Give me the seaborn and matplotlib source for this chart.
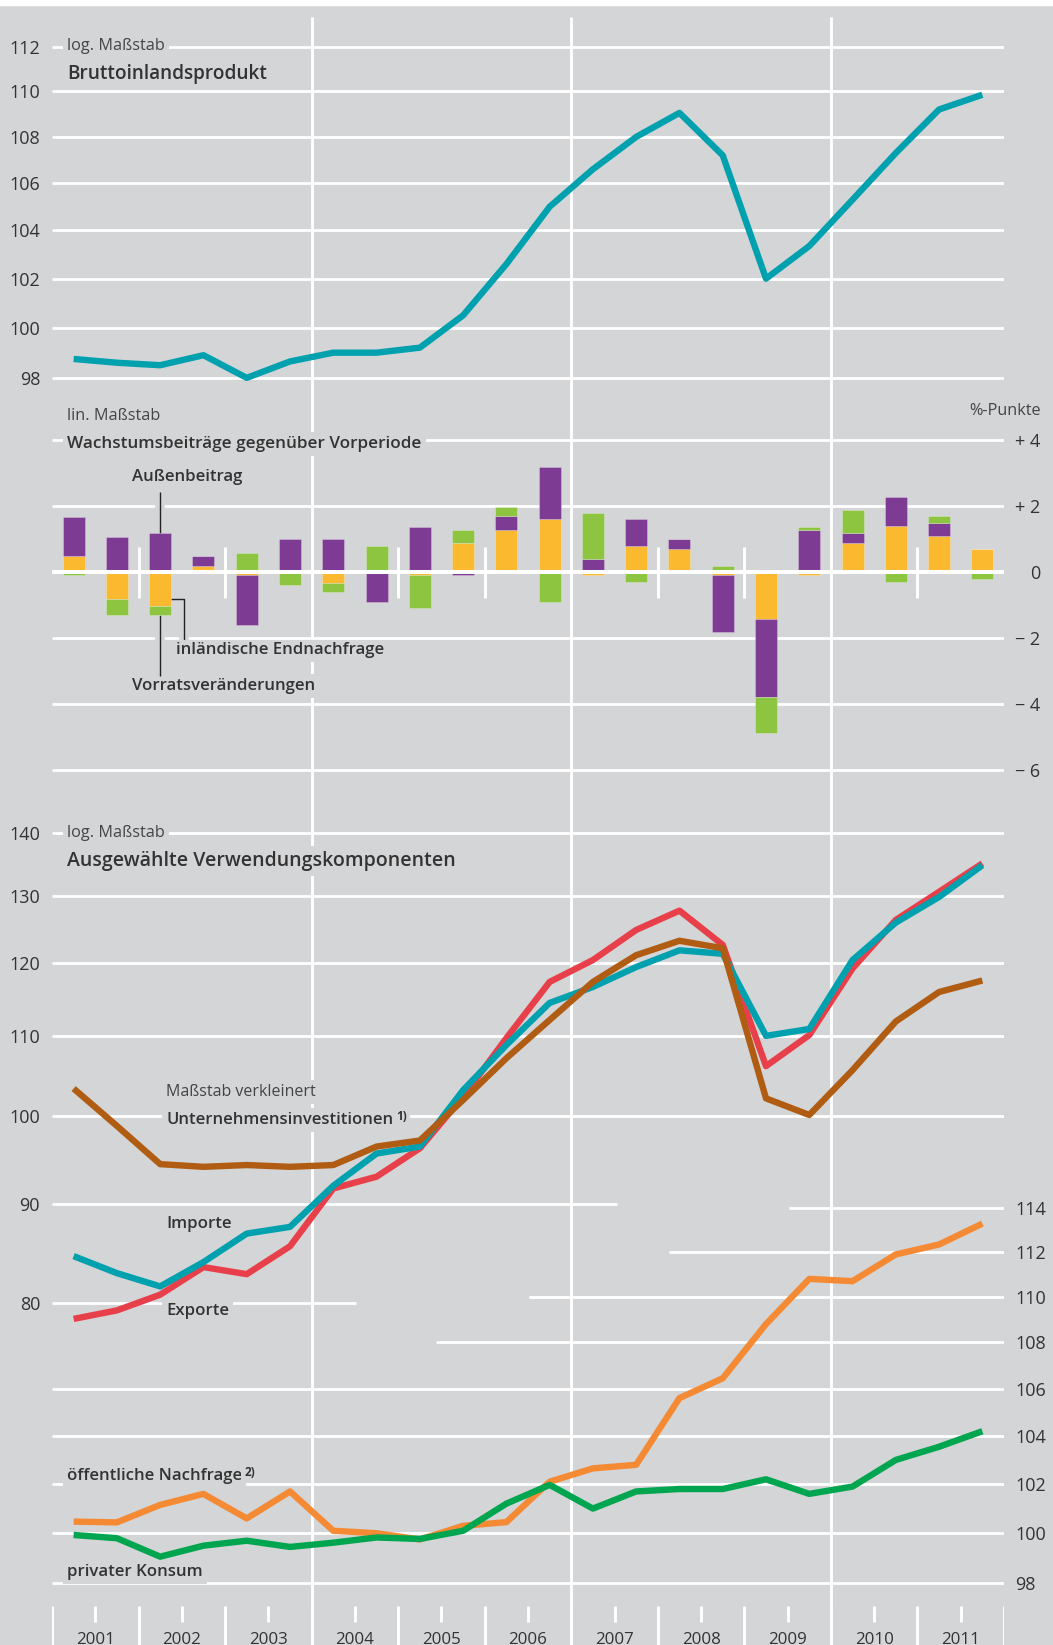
import numpy as np
import pandas as pd
import matplotlib
matplotlib.use("Agg")
import matplotlib.pyplot as plt
import matplotlib.ticker as mticker
import matplotlib.patheffects as pe
from matplotlib.patches import Rectangle
from matplotlib.text import Annotation
import seaborn as sns

# ------------------------------------------------------------------ data
years = list(range(2001, 2012))
half_offsets = [0.25, 0.75]          # Halbjahre innerhalb eines Jahres

gdp = [98.75, 98.6, 98.5, 98.9, 98.0, 98.65, 99.0, 99.0, 99.2, 100.5, 102.6,
       105.0, 106.6, 108.0, 109.05, 107.2, 102.0, 103.35, 105.3, 107.3, 109.2, 109.85]

# Wachstumsbeiträge (%-Punkte)
domestic = [0.48, -0.82, -1.02, 0.19, -0.1, 0.0, -0.32, 0.0, -0.1, 0.89, 1.29,
            1.6, -0.1, 0.79, 0.69, -0.1, -1.42, -0.1, 0.89, 1.39, 1.09, 0.69]
external = [1.2, 1.07, 1.17, 0.3, -1.5, 0.99, 0.99, -0.9, 1.38, -0.08, 0.4,
            1.58, 0.38, 0.81, 0.3, -1.71, -2.39, 1.28, 0.3, 0.89, 0.39, 0.0]
stocks = [-0.1, -0.48, -0.28, 0.0, 0.58, -0.39, -0.3, 0.79, -1.0, 0.4, 0.29,
          -0.9, 1.41, -0.3, 0.0, 0.18, -1.08, 0.1, 0.7, -0.3, 0.21, -0.21]

# Ausgewählte Verwendungskomponenten
investment = [103.3, 98.8, 94.4, 94.1, 94.3, 94.1, 94.3, 96.4, 97.1, 101.9, 107.1,
              112.1, 117.3, 121.1, 123.2, 122.1, 102.1, 100.1, 105.6, 111.9, 115.9, 117.5]
imports = [84.6, 82.9, 81.6, 84.0, 86.9, 87.6, 92.0, 95.6, 96.4, 103.1, 108.8,
           114.4, 116.6, 119.4, 121.8, 121.3, 110.0, 110.9, 120.4, 125.9, 129.8, 134.8]
exports = [78.5, 79.3, 80.8, 83.5, 82.8, 85.6, 91.7, 93.0, 96.2, 102.3, 109.7,
           117.3, 120.4, 124.8, 127.7, 122.6, 106.1, 110.1, 119.2, 126.3, 130.6, 135.1]
public = [100.47, 100.44, 101.15, 101.6, 100.6, 101.7, 100.1, 100.0, 99.75, 100.3, 100.45,
          102.1, 102.65, 102.8, 105.6, 106.45, 108.8, 110.8, 110.7, 111.9, 112.35, 113.3]
private = [99.93, 99.8, 99.06, 99.5, 99.7, 99.45, 99.62, 99.83, 99.77, 100.1, 101.2,
           101.97, 101.0, 101.7, 101.8, 101.8, 102.2, 101.6, 101.9, 103.0, 103.55, 104.2]

gdp_ticks = [98, 100, 102, 104, 106, 108, 110, 112]
bar_ticks = [4, 2, 0, -2, -4, -6]
bar_tick_labels = ["+ 4", "+ 2", "0", "\u2212 2", "\u2212 4", "\u2212 6"]
left_ticks = [80, 90, 100, 110, 120, 130, 140]
right_ticks = [98, 100, 102, 104, 106, 108, 110, 112, 114]

# ------------------------------------------------------------------ style
bg = "#d4d5d7"
txt = "#333333"
txt_light = "#444444"
teal = "#00a1af"
red = "#e8404a"
brown = "#b05c12"
orange_l = "#f58a35"
green_l = "#00a64f"
purple = "#7d3b93"
bar_orange = "#fbb92f"
bar_green = "#8dc540"
white = "white"

sns.set_theme(style="white")
plt.rcParams["font.family"] = ["Open Sans", "DejaVu Sans"]
plt.rcParams["axes.unicode_minus"] = False

W, H = 1053, 1645
fig = plt.figure(figsize=(W / 100, H / 100), dpi=100, facecolor=bg)


def rect(x0, y0, x1, y1):
    return [x0 / W, 1 - y1 / H, (x1 - x0) / W, (y1 - y0) / H]


X0, X1 = 2001, 2012                     # x axis spans pixels 52 .. 1004
PXL, PXR = 52, 1004
PX_PER_YEAR = (PXR - PXL) / (X1 - X0)
xpos = np.array([y + h for y in years for h in half_offsets])
GRID_LW = 2.0


def clean(ax):
    ax.set_facecolor("none")
    for s in ax.spines.values():
        s.set_visible(False)
    ax.set_xlim(X0, X1)
    ax.set_xticks([])
    ax.grid(False)


# background axis: long vertical lines + bottom year ticks
ax_v = fig.add_axes(rect(PXL, 0, PXR, H))
clean(ax_v)
ax_v.set_ylim(H, 0)
ax_v.set_yticks([])
ax_v.vlines([2004, 2007, 2010], 17, H, color=white, lw=2.1, zorder=1)
ax_v.vlines([y for y in years] + [2012], 1606, H, color=white, lw=2.1)
ax_v.vlines([y + 0.5 for y in years], 1606, 1622, color=white, lw=2.1)
for y in years:
    ax_v.text(y + 0.5, 1640, str(y), ha="center", va="center", fontsize=12.2,
              color=txt, clip_on=False)

# white strip at the very top
fig.add_artist(Rectangle((0, 1 - 5 / H), 1, 5 / H, transform=fig.transFigure,
                         color="white", zorder=10))

# ------------------------------------------------------------------ panel 1: GDP
def gdp_val(py):
    return 112 * np.exp(-(py - 46.7) / 2480)


ax_t = fig.add_axes(rect(PXL, 17, PXR, 390))
clean(ax_t)
ax_t.set_yscale("log")
ax_t.set_ylim(gdp_val(390), gdp_val(17))
ax_t.hlines(gdp_ticks, X0, X1, color=white, lw=GRID_LW, zorder=1)
sns.lineplot(x=xpos, y=gdp, ax=ax_t, color=teal, linewidth=4.6, zorder=3,
             solid_capstyle="butt")
ax_t.yaxis.set_major_locator(mticker.FixedLocator(gdp_ticks))
ax_t.yaxis.set_minor_locator(mticker.NullLocator())
ax_t.set_yticklabels([str(t) for t in gdp_ticks])
ax_t.tick_params(axis="y", length=0, pad=8.6, labelsize=13, labelcolor=txt)
ax_t.set_ylabel("")

# ------------------------------------------------------------------ panel 2: bars
def bar_val(py):
    return (572 - py) / 32.93


def bar_x(px):
    return X0 + (px - PXL) / PX_PER_YEAR


ax_m = fig.add_axes(rect(PXL, 420, PXR, 790))
clean(ax_m)
ax_m.set_ylim(bar_val(790), bar_val(420))
ax_m.hlines([t for t in bar_ticks if t != 0], X0, X1, color=white, lw=GRID_LW, zorder=1)
ax_m.hlines([0], X0, X1, color=white, lw=2.9, zorder=4)
ax_m.vlines([2002, 2003, 2005, 2006, 2008, 2009, 2011], -0.8, 0.77, color=white,
            lw=2.1, zorder=1)

pos_base = np.zeros(len(xpos))
neg_base = np.zeros(len(xpos))
for vals, col in [(domestic, bar_orange), (external, purple), (stocks, bar_green)]:
    v = np.array(vals)
    base = np.where(v >= 0, pos_base, neg_base)
    ax_m.bar(xpos, v, bottom=base, width=0.254, color=col, zorder=3,
             edgecolor=(1, 1, 1, 0.25), linewidth=0.7)
    pos_base = pos_base + np.clip(v, 0, None)
    neg_base = neg_base + np.clip(v, None, 0)

ax_m.yaxis.tick_right()
ax_m.set_yticks(bar_ticks)
ax_m.set_yticklabels(bar_tick_labels)
for lab in ax_m.get_yticklabels():
    lab.set_horizontalalignment("right")
ax_m.tick_params(axis="y", length=0, pad=26, labelsize=13, labelcolor=txt)

# leader lines for the bar labels (bar 3 = 2002 H1)
halo = [pe.Stroke(linewidth=7, foreground=bg), pe.Normal()]
xb = xpos[2]
ax_m.plot([xb, xb], [bar_val(491.5), pos_base[2]], color="#222222", lw=1.0,
          zorder=2, path_effects=halo, solid_capstyle="butt")
ax_m.plot([xb + 0.03, bar_x(184), bar_x(184)], [-0.82, -0.82, bar_val(639)],
          color="#222222", lw=1.0, zorder=2, path_effects=halo)
ax_m.plot([xb, xb], [neg_base[2], bar_val(676)], color="#222222", lw=1.0,
          zorder=2, path_effects=halo, solid_capstyle="butt")

# labels below the gridlines (they only cut the vertical year line)
for px, py, s in [(176, 650, "inländische Endnachfrage"),
                  (132, 686, "Vorratsveränderungen")]:
    ax_m.text(bar_x(px), bar_val(py), s, ha="left", va="center", fontsize=12.1,
              fontweight="semibold", color=txt, zorder=0.5,
              bbox=dict(boxstyle="square,pad=0.25", fc=bg, ec="none"))

# ------------------------------------------------------------------ panel 3: components
def left_val(py):
    return 140 * np.exp(-(py - 833.5) / 839)


def right_val(py):
    return 114 * np.exp(-(py - 1208.3) / 2480)


ax_b = fig.add_axes(rect(PXL, 790, PXR, 1600))
clean(ax_b)
ax_b.set_yscale("log")
ax_b.set_ylim(left_val(1600), left_val(790))

# left-scale gridlines (partly shortened)
ax_b.hlines([100, 110, 120, 130, 140], X0, X1, color=white, lw=GRID_LW, zorder=1)
ax_b.hlines([90], X0, bar_x(617), color=white, lw=GRID_LW, zorder=1)
ax_b.hlines([80], X0, bar_x(356), color=white, lw=GRID_LW, zorder=1)

left_df = pd.DataFrame({
    "x": np.tile(xpos, 3),
    "value": exports + imports + investment,
    "series": ["Exporte"] * 22 + ["Importe"] * 22 + ["Unternehmensinvestitionen"] * 22,
})
sns.lineplot(data=left_df, x="x", y="value", hue="series",
             hue_order=["Exporte", "Importe", "Unternehmensinvestitionen"],
             palette=[red, teal, brown], linewidth=4.6, legend=False, ax=ax_b,
             zorder=3, solid_capstyle="butt")
ax_b.yaxis.set_major_locator(mticker.FixedLocator(left_ticks))
ax_b.yaxis.set_minor_locator(mticker.NullLocator())
ax_b.set_yticklabels([str(t) for t in left_ticks])
ax_b.tick_params(axis="y", length=0, pad=8.6, labelsize=13, labelcolor=txt)
ax_b.set_ylabel("")
ax_b.set_xlabel("")

ax_r = ax_b.twinx()
clean(ax_r)
ax_r.set_yscale("log")
ax_r.set_ylim(right_val(1600), right_val(790))
ax_r.hlines([98, 100, 102, 104, 106], X0, X1, color=white, lw=GRID_LW, zorder=1)
for val, start in [(108, 436), (110, 529), (112, 669), (114, 789)]:
    ax_r.hlines([val], bar_x(start), X1, color=white, lw=GRID_LW, zorder=1)

right_df = pd.DataFrame({
    "x": np.tile(xpos, 2),
    "value": public + private,
    "series": ["öffentliche Nachfrage"] * 22 + ["privater Konsum"] * 22,
})
sns.lineplot(data=right_df, x="x", y="value", hue="series",
             hue_order=["öffentliche Nachfrage", "privater Konsum"],
             palette=[orange_l, green_l], linewidth=4.6, legend=False, ax=ax_r,
             zorder=3, solid_capstyle="butt")
ax_r.yaxis.set_major_locator(mticker.FixedLocator(right_ticks))
ax_r.yaxis.set_minor_locator(mticker.NullLocator())
ax_r.set_yticklabels([str(t) for t in right_ticks])
ax_r.tick_params(axis="y", length=0, pad=8, labelsize=13, labelcolor=txt)
ax_r.set_ylabel("")
ax_r.set_xlabel("")

# ------------------------------------------------------------------ texts
def ftext(x, y, s, size=12.0, weight="normal", ha="left", gap=True, color=txt):
    kw = {}
    if gap:
        kw["bbox"] = dict(boxstyle="square,pad=0.25", fc=bg, ec="none")
    return fig.text(x / W, 1 - y / H, s, ha=ha, va="center", fontsize=size,
                    fontweight=weight, color=color, zorder=5, **kw)


def sup(t, s):
    a = Annotation(s, xy=(1, 1), xycoords=t, xytext=(2.0, 1.5),
                   textcoords="offset points", fontsize=8.5, ha="left", va="top",
                   color=txt, fontweight="bold", zorder=6,
                   bbox=dict(boxstyle="square,pad=0.3", fc=bg, ec="none"))
    fig.add_artist(a)


TW = "semibold"
LS = 11.7
ftext(67, 46, "log. Maßstab", size=LS, color=txt_light)
ftext(67, 74, "Bruttoinlandsprodukt", size=13.7, weight=TW, gap=False)

ftext(67, 416, "lin. Maßstab", size=LS, color=txt_light, gap=False)
ftext(67, 444, "Wachstumsbeiträge gegenüber Vorperiode", size=12.3, weight=TW)
ftext(1041, 411, "%-Punkte", size=LS, ha="right", gap=False, color=txt_light)
ftext(132, 477, "Außenbeitrag", size=12.1, weight=TW, gap=False)

ftext(67, 833, "log. Maßstab", size=LS, color=txt_light)
ftext(67, 861, "Ausgewählte Verwendungskomponenten", size=14.0, weight=TW)
ftext(166, 1092, "Maßstab verkleinert", size=11.5, color=txt_light)
t_inv = ftext(166, 1120, "Unternehmensinvestitionen", size=12.0, weight=TW)
sup(t_inv, "1)")
ftext(166, 1224, "Importe", size=12.1, weight=TW)
ftext(166, 1311, "Exporte", size=12.1, weight=TW)
t_pub = ftext(67, 1476, "öffentliche Nachfrage", size=12.1, weight=TW)
sup(t_pub, "2)")
ftext(67, 1572, "privater Konsum", size=12.1, weight=TW)

fig.savefig("out.png", dpi=100, facecolor=bg)
